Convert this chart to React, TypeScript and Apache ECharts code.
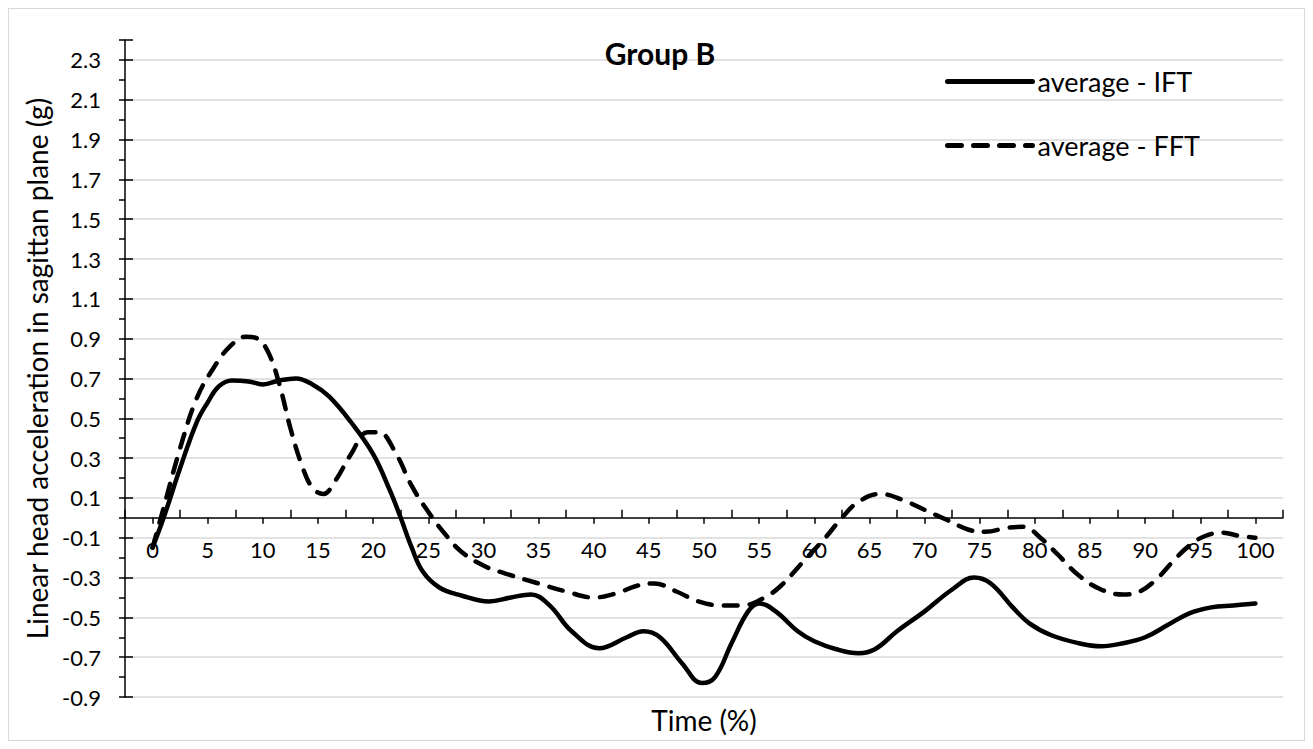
import React, { useEffect, useRef } from "react";
import * as echarts from "echarts";

const categories = ["0","5","10","15","20","25","30","35","40","45","50","55","60","65","70","75","80","85","90","95","100"];

const iftX = [0,1,2.5,4,5,6,7.2,8.7,10,11.5,13,14.5,16,18,20,21.5,22.5,23.5,24.5,26,28,30.5,32.5,34.3,36,38,40.5,43,44.5,46,48,49.8,51,52.5,54,55,56.5,58.5,60,62,64,65.5,67.5,70,72.5,74.5,76,78,79.5,81.5,84,86,88,90,92,94,96,98,100];
const iftY = [-0.15,0.0,0.25,0.48,0.58,0.66,0.69,0.685,0.67,0.69,0.7,0.67,0.61,0.48,0.32,0.14,0.0,-0.15,-0.27,-0.35,-0.39,-0.42,-0.4,-0.385,-0.44,-0.57,-0.655,-0.6,-0.57,-0.6,-0.73,-0.83,-0.8,-0.63,-0.47,-0.43,-0.47,-0.57,-0.62,-0.66,-0.68,-0.66,-0.57,-0.47,-0.36,-0.3,-0.33,-0.45,-0.53,-0.59,-0.63,-0.645,-0.63,-0.6,-0.54,-0.48,-0.45,-0.44,-0.43];

const fftX = [0,1,2.5,4,5.5,7,8.5,9.5,10.5,11.5,12.5,13.5,14.5,15.5,16.5,18,19.5,20.5,22,23.5,25,26.5,28,30,32,35,37.5,40,42,44,45.5,47.5,49.5,51.5,53.5,55.5,57,59,61,62.5,64,66,68,70,72,74,75.5,77.5,79,80.5,82,84,86,88,89.5,91,92.5,94,95.5,97,98.5,100];
const fftY = [-0.15,0.05,0.35,0.6,0.75,0.86,0.91,0.9,0.83,0.67,0.45,0.27,0.15,0.12,0.18,0.32,0.43,0.43,0.33,0.16,0.03,-0.08,-0.17,-0.24,-0.28,-0.33,-0.37,-0.4,-0.38,-0.34,-0.33,-0.37,-0.42,-0.44,-0.44,-0.4,-0.34,-0.22,-0.1,0.0,0.08,0.12,0.09,0.04,-0.01,-0.06,-0.07,-0.05,-0.045,-0.1,-0.18,-0.29,-0.36,-0.385,-0.37,-0.31,-0.22,-0.14,-0.09,-0.075,-0.09,-0.1];

const seriesNames = ["average - IFT", "average - FFT"];
const titleText = "Group B";
const xTitle = "Time (%)";
const yTitle = "Linear head acceleration in sagittan plane (g)";

const FONT = "Lato, 'Open Sans', sans-serif";

const Y_MIN = -0.9;
const Y_MAX = 2.4;
const CHART_H = 731;
const GRID_TOP = 31;
const GRID_BOTTOM = 43;

export default function App() {
  const ref = useRef<HTMLDivElement>(null);
  useEffect(() => {
    if (!ref.current) return;
    const chart = echarts.init(ref.current, undefined, { renderer: "svg" });
    const zip = (xs: number[], ys: number[]) => xs.map((x, i) => [x, ys[i]]);
    const gridH = CHART_H - GRID_TOP - GRID_BOTTOM;
    // place the category axis on y = 0 (as the reference's axis crosses at zero)
    const zeroOffset = -gridH * (0 - Y_MIN) / (Y_MAX - Y_MIN);
    const catAxisBase = {
      type: "category" as const,
      data: categories,
      position: "bottom" as const,
      boundaryGap: true,
      offset: zeroOffset,
      splitLine: { show: false },
    };
    chart.setOption({
      animation: false,
      textStyle: { fontFamily: FONT },
      title: {
        text: titleText,
        left: 646,
        top: 24,
        textAlign: "center",
        textStyle: { fontFamily: FONT, fontSize: 30, fontWeight: "bold", color: "#000" },
      },
      legend: {
        orient: "vertical",
        left: 931,
        top: 54,
        itemWidth: 85,
        itemHeight: 14,
        itemGap: 37,
        itemStyle: { opacity: 0 },
        lineStyle: { width: 5 },
        textStyle: { fontFamily: FONT, fontSize: 27, color: "#000" },
        data: seriesNames,
      },
      grid: { left: 116, right: 21, top: GRID_TOP, bottom: GRID_BOTTOM, outerBoundsMode: "none", containLabel: false },
      xAxis: [
        {
          ...catAxisBase,
          axisLine: { show: true, onZero: false, lineStyle: { color: "#000", width: 1.5 } },
          axisTick: { show: true, alignWithLabel: true, inside: false, length: 6, interval: 0, lineStyle: { color: "#000", width: 1.5 } },
          axisLabel: { show: true, interval: 0, fontFamily: FONT, fontSize: 22, color: "#000", margin: 21 },
          name: xTitle,
          nameLocation: "middle",
          nameGap: 188,
          nameTextStyle: { fontFamily: FONT, fontSize: 28, color: "#000" },
        },
        {
          ...catAxisBase,
          axisLine: { show: false, onZero: false },
          axisTick: { show: true, alignWithLabel: false, inside: true, length: 8, interval: 0, lineStyle: { color: "#000", width: 1.5 } },
          axisLabel: { show: false },
        },
        {
          type: "value",
          min: -2.5,
          max: 102.5,
          show: false,
          splitLine: { show: false },
        },
      ],
      yAxis: [
        {
          type: "value",
          position: "left",
          min: Y_MIN,
          max: Y_MAX,
          interval: 0.1,
          axisLine: { show: true, onZero: false, lineStyle: { color: "#000", width: 1.5 } },
          axisTick: { show: true, inside: false, length: 6, lineStyle: { color: "#000", width: 1.5 } },
          axisLabel: {
            fontFamily: FONT,
            fontSize: 22,
            color: "#000",
            margin: 24,
            formatter: (v: number) => {
              const k = Math.round((v + 0.9) * 10);
              return k % 2 === 0 && k <= 32 ? v.toFixed(1) : "";
            },
          },
          splitLine: { show: false },
          name: yTitle,
          nameLocation: "middle",
          nameRotate: 90,
          nameGap: 72,
          nameTextStyle: { fontFamily: FONT, fontSize: 28, color: "#000" },
        },
        {
          type: "value",
          position: "left",
          min: Y_MIN,
          max: Y_MAX,
          interval: 0.2,
          axisLine: { show: false, onZero: false },
          axisTick: { show: true, inside: true, length: 8, lineStyle: { color: "#000", width: 1.5 } },
          axisLabel: { show: false },
          splitLine: { show: true, showMaxLine: false, lineStyle: { color: "#d9d9d9", width: 1.5 } },
        },
      ],
      series: [
        {
          name: seriesNames[0],
          type: "line",
          xAxisIndex: 2,
          yAxisIndex: 0,
          data: zip(iftX, iftY),
          smooth: 0.4,
          symbol: "none",
          lineStyle: { color: "#000", width: 4.5, cap: "round" },
          itemStyle: { color: "#000" },
        },
        {
          name: seriesNames[1],
          type: "line",
          xAxisIndex: 2,
          yAxisIndex: 0,
          data: zip(fftX, fftY),
          smooth: 0.4,
          symbol: "none",
          lineStyle: { color: "#000", width: 4.5, type: [14, 12], cap: "round" },
          itemStyle: { color: "#000" },
        },
      ],
    });
    return () => chart.dispose();
  }, []);
  return (
    <div style={{ width: 1297, height: 733, border: "1px solid #d9d9d9", boxSizing: "border-box" }}>
      <div ref={ref} style={{ width: 1295, height: 731 }} />
    </div>
  );
}
